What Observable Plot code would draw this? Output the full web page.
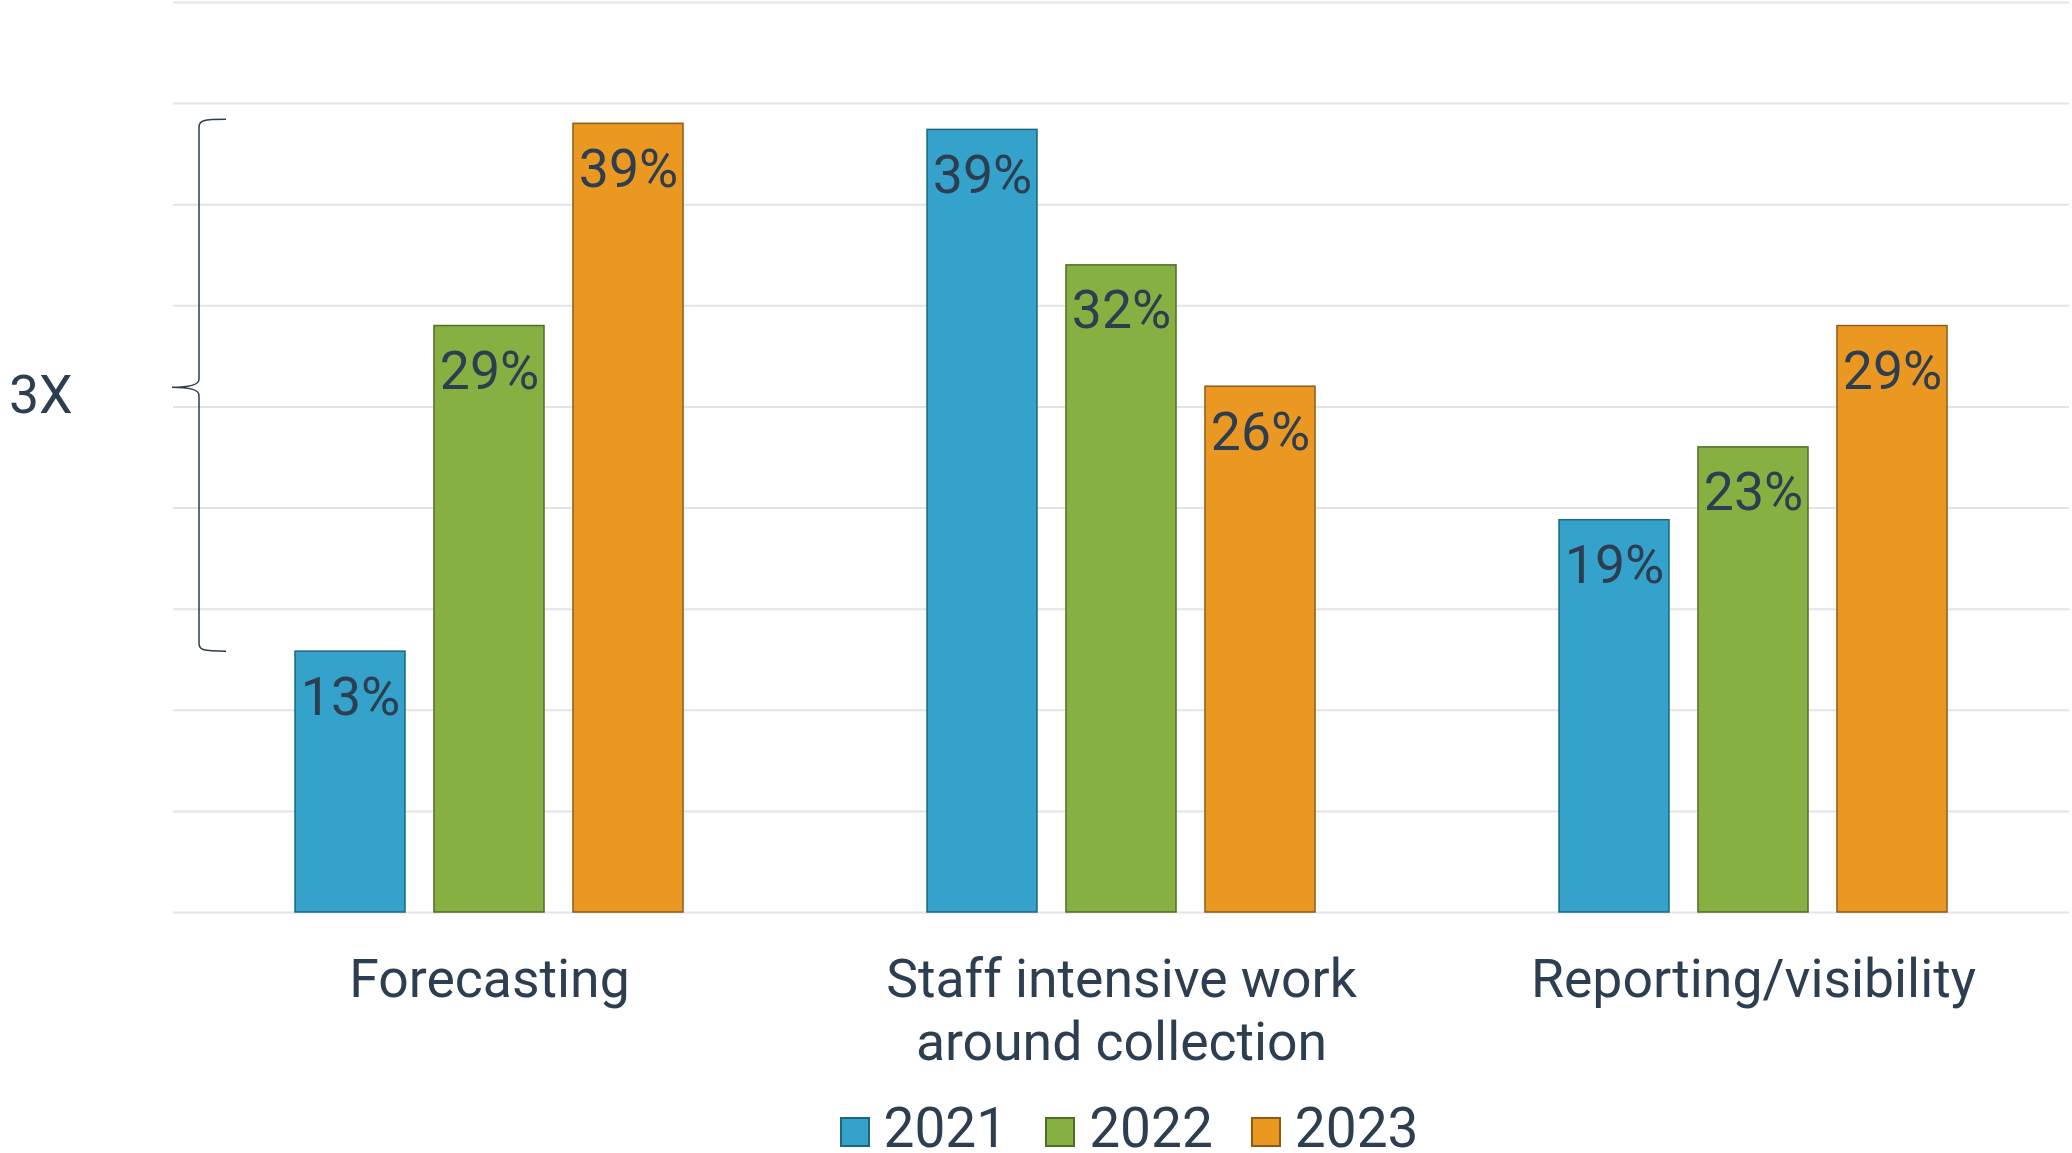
<!DOCTYPE html>
<html>
<head>
<meta charset="utf-8">
<script src="https://cdn.jsdelivr.net/npm/d3@7"></script>
<script src="https://cdn.jsdelivr.net/npm/@observablehq/plot@0.6"></script>
<style>
  html, body { margin: 0; padding: 0; background: #ffffff; }
  body { width: 2072px; height: 1153px; overflow: hidden; position: relative; font-family: Roboto, "Noto Sans", sans-serif; }
  #chart { position: absolute; left: 0; top: 0; }
  #legend { position: absolute; left: 189px; width: 1880px; top: 1106px; display: flex; justify-content: center;
            font-family: Roboto, sans-serif; font-size: 55px; line-height: 44px; color: #2d3e50; white-space: nowrap; }
  #legend .item { margin: 0 19px; }
  #legend .sw { display: inline-block; width: 30px; height: 30px; box-sizing: border-box; border: 2px solid; margin-right: 14px; vertical-align: baseline; }
</style>
</head>
<body>
<div id="chart"></div>
<div id="legend"></div>
<script>
// ---- data ----
const categories = ["Forecasting", "Staff intensive work around collection", "Reporting/visibility"];
const categoryLabels = ["Forecasting", "Staff intensive work\naround collection", "Reporting/visibility"];
const years = ["2021", "2022", "2023"];
const values2021 = [12.9, 38.7, 19.4];
const values2022 = [29, 32, 23];
const values2023 = [39, 26, 29];
const fillColors = ["#35a2cb", "#86b142", "#eb9823"];
const strokeColors = ["#1f6580", "#4f6d24", "#8c5b14"];
const gridTicks = [0, 5, 10, 15, 20, 25, 30, 35, 40, 45];
const bracketRange = [12.9, 39];
const bracketLabel = "3X";

const textColor = "#2d3e50";
const fontSize = 53.5;
const seriesValues = [values2021, values2022, values2023];
const rows = [];
categories.forEach((c, i) => {
  years.forEach((y, j) => {
    rows.push({category: c, year: y, value: seriesValues[j][i], fillColor: fillColors[j], strokeColor: strokeColors[j]});
  });
});

const chart = Plot.plot({
  width: 2072,
  height: 1095,
  marginLeft: 173,
  marginRight: 3,
  marginTop: 2,
  marginBottom: 183,
  style: {fontFamily: "Roboto, sans-serif", background: "white", color: textColor, overflow: "visible"},
  fx: {domain: categories, padding: 0, axis: null},
  x: {domain: years, paddingInner: 0.207, paddingOuter: 0.864, axis: null},
  y: {domain: [0, 45], axis: null},
  marks: [
    Plot.ruleY(gridTicks, {stroke: "#e4e4e4", strokeWidth: 2}),
    Plot.barY(rows, {fx: "category", x: "year", y: "value", fill: "fillColor", stroke: "strokeColor", strokeWidth: 1.5}),
    Plot.text(rows, {fx: "category", x: "year", y: "value", text: d => Math.round(d.value) + "%",
      lineAnchor: "bottom", dy: 63, fontSize: fontSize, fill: textColor}),
    Plot.axisFx({anchor: "bottom", tickSize: 0, tickPadding: 40, fontSize: fontSize, lineHeight: 1.18, fill: textColor,
      tickFormat: d => categoryLabels[categories.indexOf(d)], label: null})
  ]
});
document.getElementById("chart").appendChild(chart);

// ---- bracket annotation (uses the chart's own scales) ----
const ys = chart.scale("y");
const fxs = chart.scale("fx");
const left = fxs.apply(categories[0]);
const yTop = ys.apply(bracketRange[1]) - 4;
const yBot = ys.apply(bracketRange[0]);
const yMid = ys.apply((bracketRange[0] + bracketRange[1]) / 2);
const xe = left + 53, xv = left + 26, xt = left - 1;
const svg = d3.select(chart.tagName.toLowerCase() === "svg" ? chart : chart.querySelector("svg"));
const path = [
  `M${xe},${yTop}`,
  `C${xv + 4},${yTop} ${xv},${yTop + 1} ${xv},${yTop + 8}`,
  `L${xv},${yMid - 8}`,
  `C${xv},${yMid - 2} ${xv - 10},${yMid} ${xt},${yMid}`,
  `C${xv - 10},${yMid} ${xv},${yMid + 2} ${xv},${yMid + 8}`,
  `L${xv},${yBot - 8}`,
  `C${xv},${yBot - 1} ${xv + 4},${yBot} ${xe},${yBot}`
].join(" ");
svg.append("path").attr("d", path).attr("fill", "none").attr("stroke", textColor).attr("stroke-width", 1.5);
svg.append("text").attr("x", 9).attr("y", yMid + 26).attr("font-size", fontSize).attr("fill", textColor)
  .attr("text-anchor", "start").attr("font-family", "Roboto, sans-serif").text(bracketLabel);

// ---- legend ----
const legend = d3.select("#legend");
years.forEach((y, j) => {
  const item = legend.append("span").attr("class", "item");
  item.append("span").attr("class", "sw").style("background", fillColors[j]).style("border-color", strokeColors[j]);
  item.append("span").text(y);
});
</script>
</body>
</html>
